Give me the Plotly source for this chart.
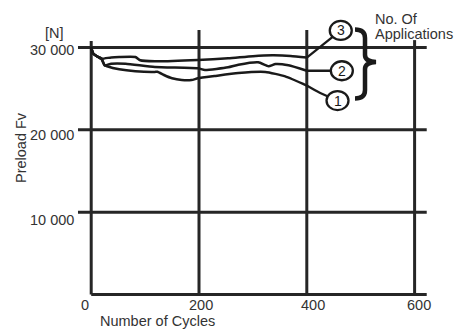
import plotly.graph_objects as go

# ---------------- data ----------------
cycles_1 = [0, 4, 13, 19, 25, 28, 52, 82, 118, 123, 135, 150, 168, 186, 198, 229, 273, 323, 360, 400]
preload_1 = [30000, 29250, 28850, 28640, 27840, 27760, 27350, 27110, 27030, 27060, 26660, 26260,
             26050, 26050, 26260, 26540, 26900, 27030, 26500, 25380]

cycles_2 = [0, 4, 13, 19, 25, 37, 64, 118, 198, 211, 254, 273, 310, 329, 342, 366, 400]
preload_2 = [30000, 29250, 28850, 28640, 27840, 28030, 28030, 27630, 27470, 27270, 27600, 27910,
             28200, 27720, 28000, 27840, 27180]

cycles_3 = [0, 4, 13, 19, 37, 52, 82, 91, 118, 198, 254, 300, 336, 370, 400]
preload_3 = [30000, 29250, 28850, 28640, 28800, 28850, 28850, 28450, 28320, 28480, 28690, 28950,
             29050, 28980, 28780]

curve_labels = ["1", "2", "3"]
label_x = [457, 465, 463]
label_y = [23560, 27180, 32070]

x_ticks = [0, 200, 400, 600]
x_tick_labels = ["0", "200", "400", "600"]
y_ticks = [0, 10000, 20000, 30000]
y_tick_labels = ["", "10 000", "20 000", "30 000"]

# ---------------- layout helpers ----------------
W, H = 455, 330
X0PX, XS = 91.2, 0.539       # pixel of x=0, px per cycle
Y0PX, YS = 294.5, 0.008233   # pixel of y=0, px per N
x_range = [-X0PX / XS, (W - X0PX) / XS]
y_range = [-(H - Y0PX) / YS, Y0PX / YS]

LINE = "#262626"
TEXT = "#333333"
FONT = "Liberation Sans, Arial, sans-serif"
FS = 14.5

fig = go.Figure()

# grid lines (as shapes from tick arrays)
shapes = []
x_left = -24.5
x_right = 622.5
for v in y_ticks:
    shapes.append(dict(type="line", xref="x", yref="y",
                       x0=(0 if v == 0 else x_left), x1=x_right, y0=v, y1=v,
                       line=dict(color=LINE, width=3), layer="below"))
vtops = {0: 30790, 200: 32130, 400: 32130, 600: 30900}
for v in x_ticks:
    shapes.append(dict(type="line", xref="x", yref="y",
                       x0=v, x1=v, y0=0, y1=vtops[v],
                       line=dict(color=LINE, width=3), layer="below"))

# curves
for cx, cy in [(cycles_1, preload_1), (cycles_2, preload_2), (cycles_3, preload_3)]:
    fig.add_trace(go.Scatter(x=cx, y=cy, mode="lines",
                             line=dict(color="#1a1a1a", width=2.5, shape="spline", smoothing=0.5),
                             hoverinfo="skip", showlegend=False))

# leader lines from curve ends to label circles
ends = [(cycles_1[-1], preload_1[-1]), (cycles_2[-1], preload_2[-1]), (cycles_3[-1], preload_3[-1])]
lead_1_mid = (424, 24500)
fig.add_trace(go.Scatter(x=[ends[0][0], lead_1_mid[0], label_x[0]],
                         y=[ends[0][1], lead_1_mid[1], label_y[0]], mode="lines",
                         line=dict(color="#1a1a1a", width=2.3, shape="spline", smoothing=0.8),
                         hoverinfo="skip", showlegend=False))
for i in (1, 2):
    fig.add_trace(go.Scatter(x=[ends[i][0], label_x[i]], y=[ends[i][1], label_y[i]], mode="lines",
                             line=dict(color="#1a1a1a", width=2.3),
                             hoverinfo="skip", showlegend=False))

# label circles
annotations = []
for lx, ly, t in zip(label_x, label_y, curve_labels):
    shapes.append(dict(type="circle", xref="x", yref="y",
                       xsizemode="pixel", ysizemode="pixel", xanchor=lx, yanchor=ly,
                       x0=-11, x1=11, y0=-9.5, y1=9.5,
                       fillcolor="white", line=dict(color="#1a1a1a", width=2.3), layer="above"))
    annotations.append(dict(x=lx, y=ly, xref="x", yref="y", text=t, showarrow=False,
                            font=dict(family=FONT, size=14, color="#1a1a1a"),
                            xanchor="center", yanchor="middle"))

# brace (pixel path -> paper coords)
def P(px, py):
    return f"{px / W:.5f},{1 - py / H:.5f}"

brace = (f"M {P(355, 29.5)} Q {P(365, 29.5)} {P(365, 38)} L {P(365, 55)} "
         f"Q {P(365, 61.5)} {P(376, 62)} Q {P(365, 62.5)} {P(365, 69)} L {P(365, 90)} "
         f"Q {P(365, 98.5)} {P(355, 98.5)}")
shapes.append(dict(type="path", xref="paper", yref="paper", path=brace,
                   line=dict(color="#1a1a1a", width=4.5), layer="above"))

# tick labels
for v, lbl, ys in zip(y_ticks, y_tick_labels, [0, -8, -5, -2.5]):
    if lbl:
        annotations.append(dict(x=0, y=v, xref="x", yref="y", text=lbl, showarrow=False,
                                xanchor="right", yanchor="middle", xshift=-15, yshift=ys,
                                font=dict(family=FONT, size=FS, color=TEXT)))
for v, lbl, xs in zip(x_ticks, x_tick_labels, [-6.5, 2, 5.7, 4]):
    annotations.append(dict(x=v, y=0, xref="x", yref="y", text=lbl, showarrow=False,
                            xanchor="center", yanchor="middle", xshift=xs, yshift=-10.5,
                            font=dict(family=FONT, size=FS, color=TEXT)))

# axis titles and other text
annotations += [
    dict(x=157.5 / W, y=1 - 321 / H, xref="paper", yref="paper", text="Number of Cycles",
         showarrow=False, xanchor="center", yanchor="middle",
         font=dict(family=FONT, size=FS, color=TEXT)),
    dict(x=21 / W, y=1 - 148 / H, xref="paper", yref="paper", text="Preload Fv", textangle=-90,
         showarrow=False, xanchor="center", yanchor="middle",
         font=dict(family=FONT, size=FS, color=TEXT)),
    dict(x=54 / W, y=1 - 33 / H, xref="paper", yref="paper", text="[N]",
         showarrow=False, xanchor="center", yanchor="middle",
         font=dict(family=FONT, size=FS, color=TEXT)),
    dict(x=373 / W, y=1 - 19.5 / H, xref="paper", yref="paper", text="No. Of",
         showarrow=False, xanchor="left", yanchor="middle",
         font=dict(family=FONT, size=FS, color=TEXT)),
    dict(x=373 / W, y=1 - 34 / H, xref="paper", yref="paper", text="Applications",
         showarrow=False, xanchor="left", yanchor="middle",
         font=dict(family=FONT, size=FS, color=TEXT)),
]

fig.update_layout(
    width=W, height=H,
    margin=dict(l=0, r=0, t=0, b=0),
    paper_bgcolor="white", plot_bgcolor="white",
    xaxis=dict(range=x_range, visible=False, fixedrange=True),
    yaxis=dict(range=y_range, visible=False, fixedrange=True),
    shapes=shapes, annotations=annotations,
    showlegend=False,
)

fig.write_html("out.html", config={"displayModeBar": False},
               post_script="document.body.style.margin='0';document.body.style.overflow='hidden';")
